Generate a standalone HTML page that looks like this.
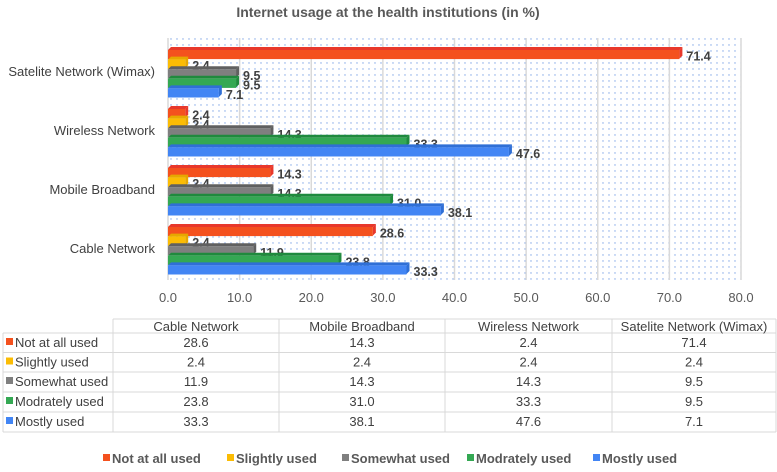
<!DOCTYPE html>
<html><head><meta charset="utf-8"><style>
body{margin:0;background:#fff;font-family:"Liberation Sans",Arial,sans-serif;}
svg text{font-family:"Liberation Sans",Arial,sans-serif;}
</style></head><body>
<svg id="c" width="777" height="467" xmlns="http://www.w3.org/2000/svg">
<defs>
<pattern id="dots" width="6" height="6" patternUnits="userSpaceOnUse"><circle cx="3" cy="3" r="0.7" fill="#7fa6e6"/></pattern>
</defs>
<text x="388" y="17" text-anchor="middle" font-size="14" font-weight="bold" fill="#595959">Internet usage at the health institutions (in %)</text>
<rect x="168" y="38" width="573" height="242" fill="url(#dots)"/>
<g id="grid"></g><g id="bars"></g><g id="axis"></g><g id="table"></g><g id="legend"></g>
</svg>
<script>
const categories=["Cable Network","Mobile Broadband","Wireless Network","Satelite Network (Wimax)"];
const seriesNames=["Not at all used","Slightly used","Somewhat used","Modrately used","Mostly used"];
const notAtAll=[28.6,14.3,2.4,71.4];
const slightly=[2.4,2.4,2.4,2.4];
const somewhat=[11.9,14.3,14.3,9.5];
const moderately=[23.8,31.0,33.3,9.5];
const mostly=[33.3,38.1,47.6,7.1];
const ticks=[0,10,20,30,40,50,60,70,80];
const series=[notAtAll,slightly,somewhat,moderately,mostly];
const colors=["#f4511e","#fbbc04","#7f7f7f","#34a853","#4285f4"];
const tops=["#e8382b","#e6a800","#606060","#1f8a3d","#2f6fd6"];
const NS="http://www.w3.org/2000/svg";
function mk(t,a,p){const e=document.createElementNS(NS,t);for(const k in a)e.setAttribute(k,a[k]);p.appendChild(e);return e;}
const x0=168,x1=741,xmax=80;
const X=v=>x0+v/xmax*(x1-x0);
const catCenter=i=>249-i*59;
const grid=document.getElementById('grid'),axis=document.getElementById('axis');
ticks.forEach(t=>{
 const l=mk('line',{x1:X(t),x2:X(t),y1:38,y2:280,stroke:'#d9d9d9','stroke-width':1.5},grid);
 
 
 const tx=mk('text',{x:X(t),y:302,'text-anchor':'middle','font-size':13,fill:'#595959'},axis);
 tx.textContent=t.toFixed(1);
 
 
});
const bars=document.getElementById('bars');
const bh=9.6,d=3;
categories.forEach((c,i)=>{
 const cy=catCenter(i);
 const lab=mk('text',{x:155,y:cy+4,'text-anchor':'end','font-size':13,fill:'#404040'},axis);
 lab.textContent=c;
 
 
 series.forEach((s,j)=>{
  const y=cy-22+j*bh;
  const w=X(s[i])-x0;
  const g=mk('g',{},bars);
  
  
  mk('polygon',{points:`${x0},${y} ${x0+d},${y-d} ${x0+w+d},${y-d} ${x0+w},${y}`,fill:tops[j]},g);
  mk('polygon',{points:`${x0+w},${y} ${x0+w+d},${y-d} ${x0+w+d},${y+bh-1-d} ${x0+w},${y+bh-1}`,fill:tops[j]},g);
  mk('rect',{x:x0,y:y,width:w,height:bh-0.5,fill:colors[j]},g);
  const v=mk('text',{x:x0+w+d+4,y:y+bh+1,'font-size':12.5,'font-weight':'bold',fill:'#404040'},g);
  v.textContent=s[i].toFixed(1);
 });
});
// table
const tb=document.getElementById('table');
const cols=[3,113,279,445,612,776],rows=[319,333,352.5,372,392,412,432];
const L=(a,b,c,e)=>{const l=mk('line',{x1:a,y1:b,x2:c,y2:e,stroke:'#d9d9d9','stroke-width':1},tb);return l;};
L(113,319,776,319);
for(let r=1;r<rows.length;r++)L(3,rows[r],776,rows[r]);
L(3,333,3,432);
for(let k=1;k<cols.length;k++)L(cols[k],319,cols[k],432);
categories.forEach((c,i)=>{
 const t=mk('text',{x:(cols[i+1]+cols[i+2])/2,y:331,'text-anchor':'middle','font-size':13,fill:'#404040'},tb);
 t.textContent=c;
 
 
});
seriesNames.forEach((n,j)=>{
 const yb=rows[j+1]+14;
 mk('rect',{x:6,y:yb-9,width:7,height:7,fill:colors[j]},tb);
 const t=mk('text',{x:15,y:yb,'font-size':13,fill:'#404040'},tb);
 t.textContent=n;
 
 
 series[j].forEach((v,i)=>{
  const tv=mk('text',{x:(cols[i+1]+cols[i+2])/2,y:yb,'text-anchor':'middle','font-size':13,fill:'#404040'},tb);
  tv.textContent=v.toFixed(1);
  
  
 });
});
// legend
const lg=document.getElementById('legend');
const lx=[103,227,342,467,593];
seriesNames.forEach((n,j)=>{
 const g=mk('g',{},lg);
 
 
 mk('rect',{x:lx[j],y:454,width:7,height:7,fill:colors[j]},g);
 const t=mk('text',{x:lx[j]+9,y:463,'font-size':13,'font-weight':'bold',fill:'#595959'},g);
 t.textContent=n;
});
</script>
</body></html>
